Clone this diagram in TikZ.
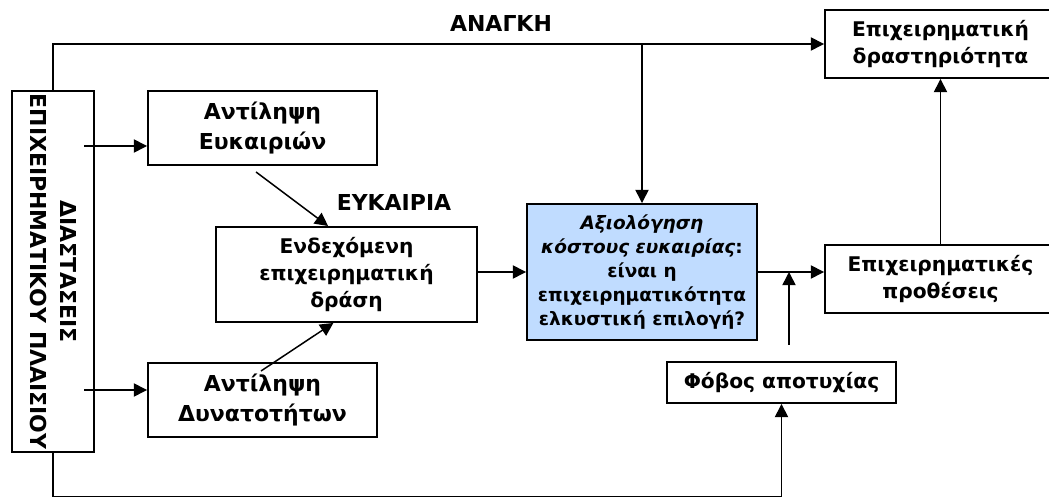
\documentclass[tikz,border=0pt]{standalone}
\usepackage{fontspec}
\setmainfont{DejaVu Sans}
\usetikzlibrary{arrows.meta,positioning,calc}
\definecolor{ink}{HTML}{000000}
\definecolor{evalbg}{HTML}{C0DCFF}

\begin{document}
\begin{tikzpicture}[
  font=\bfseries, x=1cm, y=1cm,
  box/.style={draw=ink, fill=white, line width=1.1pt, align=center, inner sep=0pt,
              minimum width=#1},
  box/.default=4.58cm,
  big/.style={font=\fontsize{12.5}{17}\selectfont\bfseries},
  mid/.style={font=\fontsize{11.5}{15.4}\selectfont\bfseries},
  small/.style={font=\fontsize{10.5}{13.7}\selectfont\bfseries},
  lbl/.style={font=\fontsize{12.5}{14}\selectfont\bfseries, inner sep=0pt},
  ar/.style={-{Triangle[length=7.5pt, width=7.5pt]}, draw=ink, line width=.85pt},
]
\useasboundingbox (0,0) rectangle (20.98,-9.94);

%% ================= left : context and perception =================
\node[box=1.64cm, minimum height=7.22cm] (dim) at (1.06,-5.43) {};
\node[big, rotate=-90, align=center] (dimtext) at (dim.center)
  {ΔΙΑΣΤΑΣΕΙΣ\\ΕΠΙΧΕΙΡΗΜΑΤΙΚΟΥ ΠΛΑΙΣΙΟΥ};

\node[box, big, minimum height=1.48cm] (percO) at (5.25,-2.56) {Αντίληψη\\Ευκαιριών};
\node[box, big, minimum height=1.48cm] (percA) at (5.25,-8.0) {Αντίληψη\\Δυνατοτήτων};
\node[box=5.22cm, mid, minimum height=1.9cm] (potential) at (6.93,-5.49)
  {Ενδεχόμενη\\επιχειρηματική\\δράση};
\node[lbl] (opp) at (7.88,-4.04) {ΕΥΚΑΙΡΙΑ};

\coordinate (dimo) at (1.68,-2.92);
\coordinate (dima) at (1.68,-7.8);
\draw[ar] (dimo) -- (dimo -| percO.west);
\draw[ar] (dima) -- (dima -| percA.west);

\coordinate (po) at (5.12,-3.44);
\coordinate (pa) at (5.22,-7.42);
\draw[ar] (po) -- ($(potential.north west)!.43!(potential.north east)$);
\draw[ar] (pa) -- ($(potential.south west)!.45!(potential.south east)$);

%% ================= middle : evaluation =================
\node[box=4.6cm, fill=evalbg, small, minimum height=2.72cm] (eval) at (12.84,-5.44)
  {\textit{Αξιολόγηση}\\\textit{κόστους ευκαιρίας}:\\είναι η\\επιχειρηματικότητα\\ελκυστική επιλογή?};
\node[box, mid, minimum height=0.82cm] (fear) at (15.63,-7.65) {Φόβος αποτυχίας};

\draw[ar] (potential.east |- eval.west) -- (eval.west);

\coordinate (fearup) at (15.78,-6.9);
\draw[ar] (fearup) -- (fearup |- eval.east);

%% ================= right : intentions and activity =================
\node[box=4.62cm, mid, minimum height=1.36cm] (act) at (18.81,-0.88)
  {Επιχειρηματική\\δραστηριότητα};
\node[box=4.62cm, mid, minimum height=1.36cm] (intent) at (18.81,-5.58)
  {Επιχειρηματικές\\προθέσεις};

\draw[ar] (eval.east) -- (eval.east -| intent.west);
\draw[ar] (intent.north) -- (act.south);

%% ================= need and the loop below =================
\node[lbl] (need) at (10.02,-0.46) {ΑΝΑΓΚΗ};
\draw[ar] (dim.north) |- (act.west);
\draw[ar] (eval.north |- act.west) -- (eval.north);
\draw[ar] (dim.south) -- ++(0,-0.88) -| (fear.south);

\end{tikzpicture}
\end{document}
